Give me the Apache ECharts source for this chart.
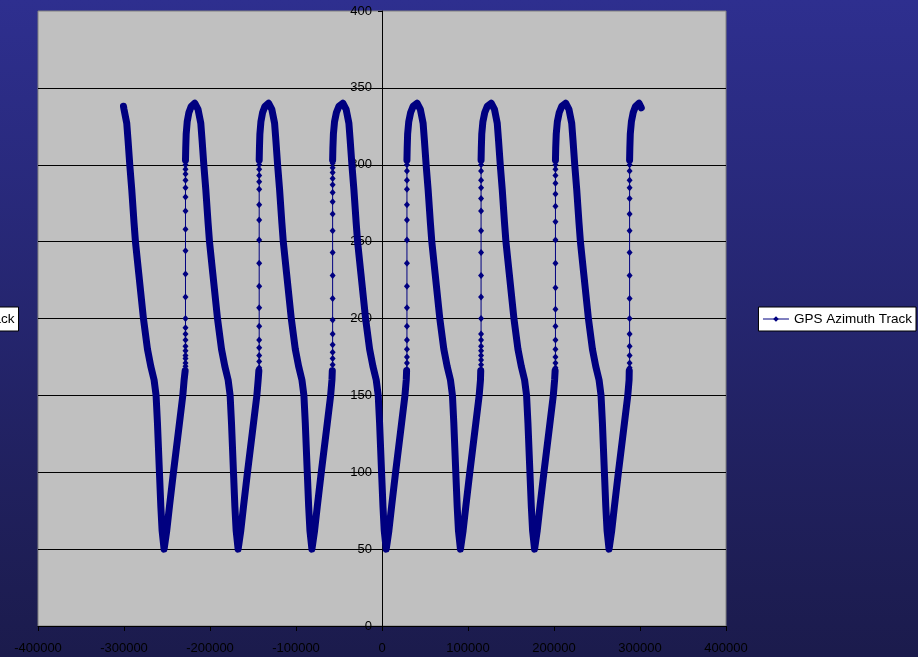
<!DOCTYPE html>
<html>
<head>
<meta charset="utf-8">
<script src="https://cdn.jsdelivr.net/npm/echarts@6/dist/echarts.min.js"></script>
<style>
html,body{margin:0;padding:0;width:918px;height:657px;overflow:hidden;}
#chart{width:918px;height:657px;}
</style>
</head>
<body>
<div id="chart"></div>
<script>
// GPS azimuth track: x = along-track offset, y = azimuth (deg)
const seriesName = 'GPS Azimuth Track';
const xTicks = { min: -400000, max: 400000, step: 100000 };
const yTicks = { min: 0, max: 400, step: 50 };

// Slow passes of the track (densely sampled)
const pass0 = [[-300600,338],[-300000,336],[-296800,327],[-295300,316],[-293300,300],[-291000,284],[-288300,262],[-286700,250],[-282800,229],[-277400,200],[-272700,180],[-268900,169],[-265000,160],[-262700,150],[-261100,132],[-258800,100],[-257200,78],[-255700,62],[-253400,50],[-250300,62],[-247100,78],[-242500,100],[-235500,132],[-231600,150],[-230100,160],[-228900,166]];
const pass1 = [[-228500,303],[-228200,311],[-227700,320],[-226500,328],[-224500,334],[-221800,338],[-217700,340],[-213900,336],[-210700,327],[-209200,316],[-207200,300],[-204900,284],[-202200,262],[-200600,250],[-196700,229],[-191300,200],[-186600,180],[-182800,169],[-178900,160],[-176600,150],[-175000,132],[-172700,100],[-171100,78],[-169600,62],[-167300,50],[-164200,62],[-161000,78],[-156400,100],[-149400,132],[-145500,150],[-144000,160],[-143200,166]];
const pass2 = [[-142800,303],[-142500,311],[-142000,320],[-140800,328],[-138800,334],[-136100,338],[-131900,340],[-128100,336],[-124900,327],[-123400,316],[-121400,300],[-119100,284],[-116400,262],[-114800,250],[-110900,229],[-105500,200],[-100800,180],[-97000,169],[-93100,160],[-90800,150],[-89200,132],[-86900,100],[-85300,78],[-83800,62],[-81500,50],[-78400,62],[-75200,78],[-70600,100],[-63600,132],[-59700,150],[-58200,160],[-57800,166]];
const pass3 = [[-57400,303],[-57100,311],[-56500,320],[-55200,328],[-53000,334],[-50100,338],[-45500,340],[-41700,336],[-38500,327],[-37000,316],[-35000,300],[-32700,284],[-30000,262],[-28400,250],[-24500,229],[-19100,200],[-14400,180],[-10600,169],[-6700,160],[-4400,150],[-2800,132],[-500,100],[1100,78],[2600,62],[4900,50],[8000,62],[11200,78],[15800,100],[22800,132],[26700,150],[28200,160],[28600,166]];
const pass4 = [[29000,303],[29300,311],[29800,320],[31100,328],[33300,334],[36200,338],[40800,340],[44600,336],[47800,327],[49300,316],[51300,300],[53600,284],[56300,262],[57900,250],[61800,229],[67200,200],[71900,180],[75700,169],[79600,160],[81900,150],[83500,132],[85800,100],[87400,78],[88900,62],[91200,50],[94300,62],[97500,78],[102100,100],[109100,132],[113000,150],[114500,160],[114800,166]];
const pass5 = [[115200,303],[115500,311],[116000,320],[117300,328],[119500,334],[122400,338],[127000,340],[130800,336],[134000,327],[135500,316],[137500,300],[139800,284],[142500,262],[144100,250],[148000,229],[153400,200],[158100,180],[161900,169],[165800,160],[168100,150],[169700,132],[172000,100],[173600,78],[175100,62],[177400,50],[180500,62],[183700,78],[188300,100],[195300,132],[199200,150],[200700,160],[201300,166]];
const pass6 = [[201700,303],[202000,311],[202600,320],[203900,328],[206100,334],[209000,338],[213600,340],[217400,336],[220600,327],[222100,316],[224100,300],[226400,284],[229100,262],[230700,250],[234600,229],[240000,200],[244700,180],[248500,169],[252400,160],[254700,150],[256300,132],[258600,100],[260200,78],[261700,62],[264000,50],[267100,62],[270300,78],[274900,100],[281900,132],[285800,150],[287300,160],[287500,166]];
const pass7 = [[287900,303],[288200,311],[288700,320],[290000,328],[292100,334],[294800,338],[298900,340],[300500,339],[301500,337]];

// Fast climbs between passes (sparsely sampled)
const climb1 = [[-228900,166],[-228500,169],[-228500,171],[-228500,174],[-228500,176],[-228500,179],[-228500,182],[-228500,186],[-228500,190],[-228500,194],[-228500,200],[-228500,214],[-228500,229],[-228500,244],[-228500,258],[-228500,270],[-228500,279],[-228500,285],[-228500,290],[-228500,294],[-228500,297],[-228500,300],[-228500,303]];
const climb2 = [[-143200,166],[-142800,168],[-142800,172],[-142800,176],[-142800,181],[-142800,186],[-142800,195],[-142800,207],[-142800,221],[-142800,236],[-142800,251],[-142800,264],[-142800,274],[-142800,284],[-142800,289],[-142800,293],[-142800,297],[-142800,300],[-142800,303]];
const climb3 = [[-57800,166],[-57400,170],[-57400,174],[-57400,178],[-57400,183],[-57400,190],[-57400,199],[-57400,213],[-57400,228],[-57400,243],[-57400,257],[-57400,268],[-57400,276],[-57400,282],[-57400,287],[-57400,291],[-57400,295],[-57400,298],[-57400,301],[-57400,303]];
const climb4 = [[28600,166],[29000,167],[29000,171],[29000,175],[29000,180],[29000,186],[29000,195],[29000,207],[29000,221],[29000,236],[29000,251],[29000,264],[29000,274],[29000,284],[29000,290],[29000,296],[29000,300],[29000,303]];
const climb5 = [[114800,166],[115200,167],[115200,170],[115200,173],[115200,176],[115200,179],[115200,182],[115200,186],[115200,190],[115200,200],[115200,214],[115200,228],[115200,243],[115200,257],[115200,270],[115200,278],[115200,285],[115200,290],[115200,296],[115200,300],[115200,303]];
const climb6 = [[201300,166],[201700,168],[201700,171],[201700,175],[201700,180],[201700,186],[201700,195],[201700,206],[201700,220],[201700,236],[201700,251],[201700,263],[201700,273],[201700,281],[201700,288],[201700,293],[201700,297],[201700,300],[201700,303]];
const climb7 = [[287500,166],[287900,168],[287900,171],[287900,176],[287900,182],[287900,190],[287900,200],[287900,213],[287900,228],[287900,243],[287900,257],[287900,268],[287900,278],[287900,285],[287900,290],[287900,296],[287900,300],[287900,303]];

const passes = [pass0, pass1, pass2, pass3, pass4, pass5, pass6, pass7];
const climbs = [climb1, climb2, climb3, climb4, climb5, climb6, climb7];

// join segments with gaps so each one is drawn as its own stroke
function joinSegments(list) {
  const out = [];
  list.forEach((seg, i) => {
    if (i > 0) out.push(['-', '-']);
    seg.forEach(p => out.push(p));
  });
  return out;
}

const font = '"Liberation Sans", Arial, sans-serif';
const navy = '#000080';
const plotLeft = 38, plotWidth = 688;

const legendBase = {
  data: [seriesName],
  orient: 'vertical',
  top: 307,
  backgroundColor: '#ffffff',
  borderColor: '#000000',
  borderWidth: 1,
  borderRadius: 0,
  padding: [5, 4, 5, 4],
  itemWidth: 26,
  itemHeight: 7,
  selectedMode: false,
  lineStyle: { width: 1 },
  textStyle: { fontFamily: font, fontSize: 13.5, color: '#000' }
};

const chart = echarts.init(document.getElementById('chart'), null, { renderer: 'canvas' });
chart.setOption({
  animation: false,
  backgroundColor: {
    type: 'linear', x: 0, y: 0, x2: 0, y2: 1,
    colorStops: [{ offset: 0, color: '#2e2f8f' }, { offset: 1, color: '#1b1b4c' }]
  },
  grid: {
    left: plotLeft, top: 11, width: plotWidth, height: 615,
    show: true, backgroundColor: '#c0c0c0', borderColor: '#808080', borderWidth: 1,
    containLabel: false, outerBoundsMode: 'none'
  },
  legend: [
    Object.assign({}, legendBase, { right: 2 }),
    Object.assign({}, legendBase, { left: -139 })
  ],
  xAxis: {
    type: 'value', min: xTicks.min, max: xTicks.max, interval: xTicks.step,
    axisLine: { show: true, lineStyle: { color: '#000', width: 1 } },
    axisTick: { show: true, length: 5, lineStyle: { color: '#000' } },
    axisLabel: { fontFamily: font, fontSize: 13, color: '#000', margin: 16, formatter: v => String(v) },
    splitLine: { show: false }
  },
  yAxis: {
    type: 'value', min: yTicks.min, max: yTicks.max, interval: yTicks.step,
    position: 'left',
    // the vertical axis crosses the horizontal one at x = 0
    offset: -plotWidth * (0 - xTicks.min) / (xTicks.max - xTicks.min),
    axisLine: { show: true, onZero: false, lineStyle: { color: '#000', width: 1 } },
    axisTick: { show: true, length: 4, lineStyle: { color: '#000' } },
    axisLabel: { fontFamily: font, fontSize: 13, color: '#000', margin: 10, formatter: v => String(v) },
    splitLine: { show: true, showMaxLine: false, lineStyle: { color: '#000', width: 1 } }
  },
  series: [
    {
      name: seriesName,
      type: 'line',
      data: joinSegments(climbs),
      symbol: 'diamond',
      symbolSize: [6, 7],
      showAllSymbol: true,
      itemStyle: { color: navy },
      lineStyle: { color: navy, width: 1 },
      connectNulls: false
    },
    {
      name: seriesName,
      type: 'line',
      data: joinSegments(passes),
      symbol: 'none',
      itemStyle: { color: navy },
      lineStyle: { color: navy, width: 7, cap: 'round', join: 'round' },
      connectNulls: false
    }
  ]
});
</script>
</body>
</html>
